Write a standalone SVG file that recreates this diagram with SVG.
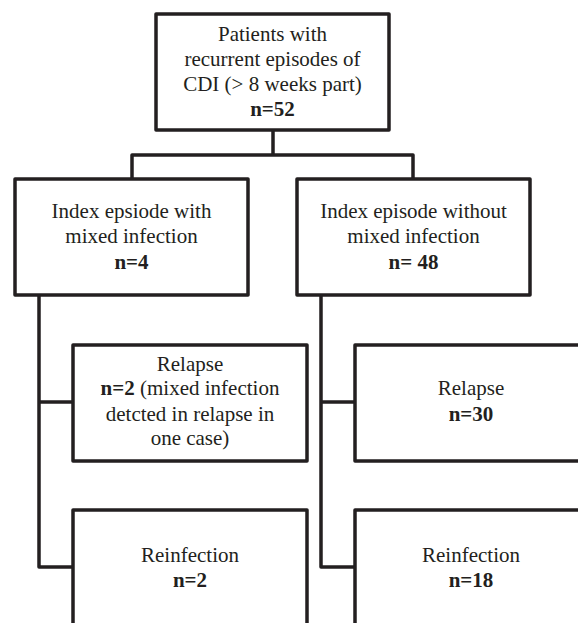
<svg xmlns="http://www.w3.org/2000/svg" width="578" height="623" viewBox="0 0 578 623">
<style>
.box{fill:#fff;stroke:#231f20;stroke-width:3.5;stroke-linejoin:round}
.con{fill:none;stroke:#231f20;stroke-width:3.5;stroke-linejoin:round}
.t{font-family:'Liberation Serif',serif;font-size:21px;fill:#231f20;text-anchor:middle}
.b{font-weight:bold}
</style>
<rect width="578" height="623" fill="#fff"/>
<g id="connectors">
<path class="con" d="M273 130V155M132 179V155H413V179"/>
<path class="con" d="M39 295V567H73M39 402H73"/>
<path class="con" d="M321 295V567H355M321 402H355"/>
</g>
<g class="t">
<g id="n_top">
<rect class="box" x="156" y="14" width="233" height="116"/>
<text x="272.5" y="41">Patients with</text>
<text x="272.5" y="66">recurrent episodes of</text>
<text x="272.5" y="91">CDI (&gt; 8 weeks part)</text>
<text x="272.5" y="116" class="b">n=52</text>
</g>
<g id="n_mixed">
<rect class="box" x="15" y="179" width="233" height="116"/>
<text x="131.5" y="218">Index epsiode with</text>
<text x="131.5" y="243">mixed infection</text>
<text x="131.5" y="269" class="b">n=4</text>
</g>
<g id="n_nomixed">
<rect class="box" x="297" y="179" width="233" height="116"/>
<text x="413.5" y="218">Index episode without</text>
<text x="413.5" y="243">mixed infection</text>
<text x="413.5" y="269" class="b">n= 48</text>
</g>
<g id="n_relapse_l">
<rect class="box" x="73" y="345" width="234" height="116"/>
<text x="190" y="371">Relapse</text>
<text x="190" y="395"><tspan class="b">n=2</tspan> (mixed infection</text>
<text x="190" y="421">detcted in relapse in</text>
<text x="190" y="445">one case)</text>
</g>
<g id="n_relapse_r">
<rect class="box" x="355" y="345" width="234" height="116"/>
<text x="471" y="395">Relapse</text>
<text x="471" y="421" class="b">n=30</text>
</g>
<g id="n_reinf_l">
<rect class="box" x="73" y="510" width="234" height="130"/>
<text x="190" y="562">Reinfection</text>
<text x="190" y="587" class="b">n=2</text>
</g>
<g id="n_reinf_r">
<rect class="box" x="355" y="510" width="234" height="130"/>
<text x="471" y="562">Reinfection</text>
<text x="471" y="587" class="b">n=18</text>
</g>
</g>
</svg>
